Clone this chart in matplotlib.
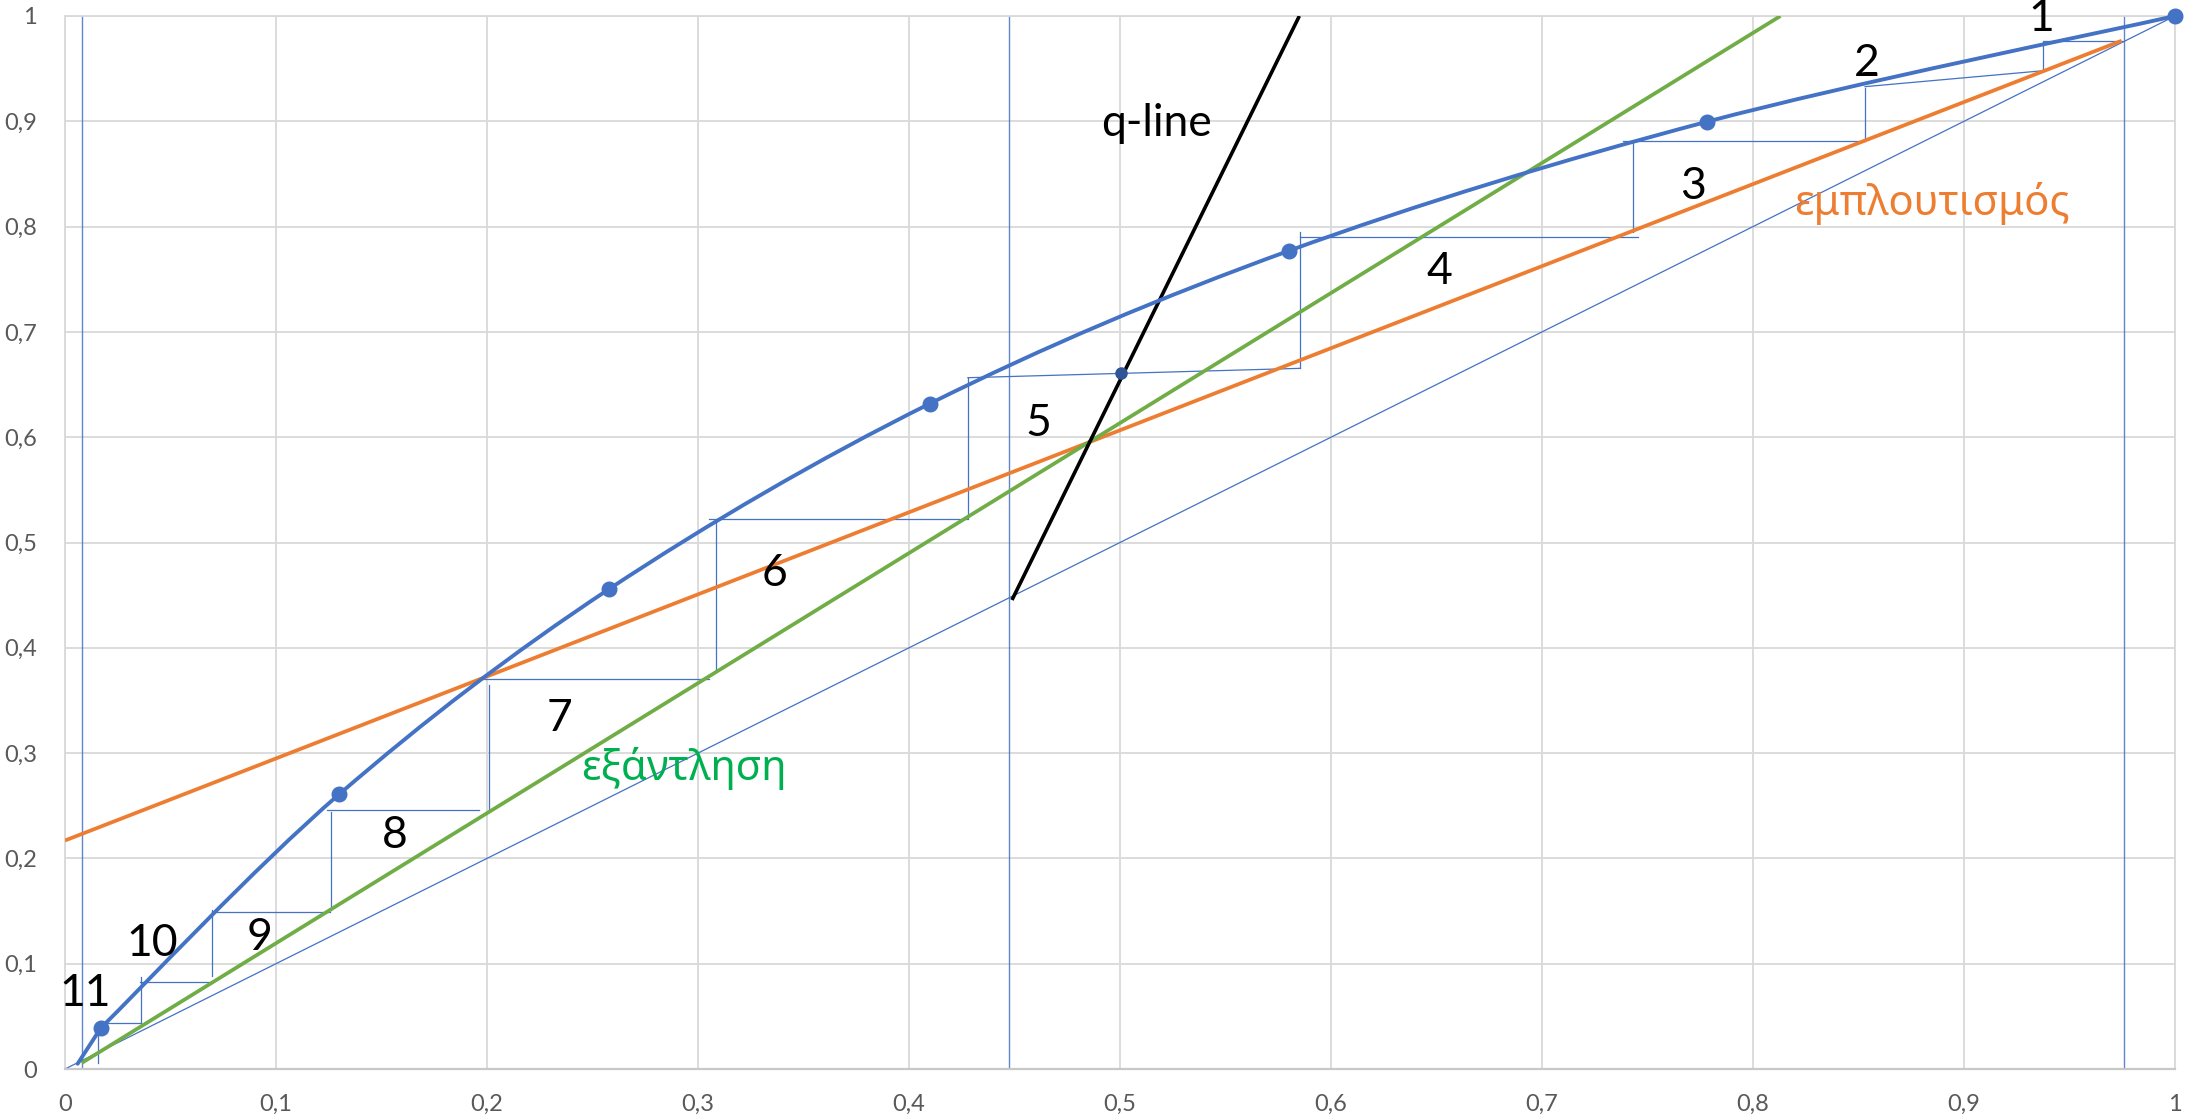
import matplotlib
matplotlib.use("Agg")
import matplotlib.pyplot as plt
from matplotlib.path import Path
from matplotlib.patches import PathPatch

# ---------------- data ----------------
# equilibrium curve (smoothed line through these points)
eq_x = [0.006, 0.017, 0.130, 0.258, 0.410, 0.580, 0.778, 1.000]
eq_y = [0.005, 0.039, 0.261, 0.456, 0.632, 0.777, 0.8995, 1.000]
# markers on the equilibrium curve
mk_x = [0.017, 0.130, 0.258, 0.410, 0.580, 0.778, 1.000]
mk_y = [0.039, 0.261, 0.456, 0.632, 0.777, 0.8995, 1.000]
# small dark marker on the step line
feed_pt_x = [0.5007]
feed_pt_y = [0.6613]

# enrichment (rectifying) operating line
rect_x = [0.0, 0.9747]
rect_y = [0.217, 0.9765]
# exhaustion (stripping) operating line
strip_x = [0.0079, 0.813]
strip_y = [0.0057, 1.0]
# q-line
q_x = [0.4488, 0.585]
q_y = [0.4454, 1.0]
# diagonal
diag_x = [0.0, 1.0]
diag_y = [0.0, 1.0]
# vertical composition lines xW, xF, xD
vlines_x = [0.0079, 0.4476, 0.976]

# staircase: near-horizontal segments (x0, y0) -> (x1, y1)
h_x0 = [0.9747, 0.9373, 0.853, 0.7456, 0.5855, 0.428, 0.305, 0.1962, 0.1256, 0.0687, 0.0359]
h_y0 = [0.9765, 0.948, 0.8816, 0.7898, 0.6654, 0.5223, 0.3704, 0.2463, 0.1488, 0.0826, 0.0434]
h_x1 = [0.9373, 0.8531, 0.7385, 0.5853, 0.4279, 0.305, 0.195, 0.1243, 0.0695, 0.0355, 0.0182]
h_y1 = [0.9765, 0.9329, 0.8816, 0.7898, 0.6565, 0.5223, 0.3704, 0.2463, 0.1488, 0.0826, 0.0434]
# staircase: vertical segments x, y_top, y_bottom
v_x = [0.9373, 0.8531, 0.743, 0.5855, 0.4279, 0.3087, 0.2009, 0.1259, 0.0697, 0.0359, 0.0158]
v_top = [0.9756, 0.9313, 0.8806, 0.795, 0.656, 0.5223, 0.3647, 0.2438, 0.151, 0.0877, 0.037]
v_bot = [0.948, 0.8822, 0.7952, 0.6654, 0.523, 0.378, 0.245, 0.151, 0.0883, 0.0434, 0.0054]

# stage numbers and their positions
stage_labels = ["1", "2", "3", "4", "5", "6", "7", "8", "9", "10", "11"]
stage_x = [0.9364, 0.8539, 0.7716, 0.6513, 0.4613, 0.3362, 0.2343, 0.1561, 0.0921, 0.0415, 0.0095]
stage_y = [0.9978, 0.955, 0.838, 0.7572, 0.6132, 0.4707, 0.333, 0.2222, 0.125, 0.1193, 0.0719]

ticks = [0.0, 0.1, 0.2, 0.3, 0.4, 0.5, 0.6, 0.7, 0.8, 0.9, 1.0]
tick_labels = ["0", "0,1", "0,2", "0,3", "0,4", "0,5", "0,6", "0,7", "0,8", "0,9", "1"]

# ---------------- styling ----------------
BLUE = "#4472C4"
ORANGE = "#ED7D31"
GREEN = "#70AD47"
TXT_GREEN = "#00B050"
GRID = "#D9D9D9"
TICK = "#595959"
plt.rcParams['font.family'] = ['Lato', 'Noto Sans', 'DejaVu Sans']

fig = plt.figure(figsize=(21.96, 11.17), dpi=100)
ax = fig.add_axes([65 / 2196, 1 - 1069 / 1117, 2110 / 2196, 1053 / 1117])
ax.set_xlim(0, 1)
ax.set_ylim(0, 1)
ax.set_xticks(ticks)
ax.set_yticks(ticks)
ax.set_xticklabels(tick_labels)
ax.set_yticklabels(tick_labels)
ax.tick_params(length=0, labelsize=17, labelcolor=TICK, pad=18)
ax.tick_params(axis='y', pad=20)
ax.grid(True, color=GRID, lw=1.3, zorder=0)
ax.set_axisbelow(True)
for s in ax.spines.values():
    s.set_color(GRID)
    s.set_linewidth(1.3)
ax.spines['bottom'].set_color("#C8C8C8")
ax.spines['bottom'].set_linewidth(1.6)

# diagonal
ax.plot(diag_x, diag_y, color=BLUE, lw=0.9, zorder=2)
# vertical composition lines
for xv in vlines_x:
    ax.plot([xv, xv], [0, 1], color=BLUE, lw=1.0, alpha=0.85, zorder=2)

# staircase
for x0, y0, x1, y1 in zip(h_x0, h_y0, h_x1, h_y1):
    ax.plot([x0, x1], [y0, y1], color=BLUE, lw=0.9, zorder=3)
for xv, yt, yb in zip(v_x, v_top, v_bot):
    ax.plot([xv, xv], [yt, yb], color=BLUE, lw=0.9, zorder=3)

# operating lines and q-line
ax.plot(rect_x, rect_y, color=ORANGE, lw=2.7, zorder=4, solid_capstyle='butt')
ax.plot(strip_x, strip_y, color=GREEN, lw=2.7, zorder=4, solid_capstyle='butt')
ax.plot(q_x, q_y, color="black", lw=2.6, zorder=5, solid_capstyle='butt')

# equilibrium curve: first segment straight, then smooth Bezier through the points
pts = list(zip(eq_x, eq_y))
verts = [pts[0], pts[1]]
codes = [Path.MOVETO, Path.LINETO]
n = len(pts)
for i in range(1, n - 1):
    p0 = pts[i - 1] if i > 1 else pts[i]
    p1 = pts[i]
    p2 = pts[i + 1]
    p3 = pts[i + 2] if i + 2 < n else pts[i + 1]
    c1 = (p1[0] + (p2[0] - p0[0]) / 6, p1[1] + (p2[1] - p0[1]) / 6)
    c2 = (p2[0] - (p3[0] - p1[0]) / 6, p2[1] - (p3[1] - p1[1]) / 6)
    verts += [c1, c2, p2]
    codes += [Path.CURVE4] * 3
ax.add_patch(PathPatch(Path(verts, codes), fill=False, edgecolor=BLUE, lw=2.8,
                       zorder=6, clip_on=False, capstyle='round', joinstyle='round'))
ax.plot(mk_x, mk_y, 'o', color=BLUE, ms=10.5, zorder=7, clip_on=False)
ax.plot(feed_pt_x, feed_pt_y, 'o', color="#2F5597", ms=8, zorder=7)

# stage numbers
for lab, xs, ys in zip(stage_labels, stage_x, stage_y):
    ax.text(xs, ys, lab, fontsize=32, color="black", ha='center', va='center', zorder=8)

ax.text(0.5174, 0.898, "q-line", fontsize=32, color="black", ha='center', va='center', zorder=8)
ax.text(0.8847, 0.8221, "εμπλουτισμός", fontsize=30, color=ORANGE, ha='center', va='center',
        family=['Noto Sans', 'DejaVu Sans'], zorder=8)
ax.text(0.2935, 0.2856, "εξάντληση", fontsize=30, color=TXT_GREEN, ha='center', va='center',
        family=['Noto Sans', 'DejaVu Sans'], zorder=8)

fig.savefig("out.png", dpi=100)
